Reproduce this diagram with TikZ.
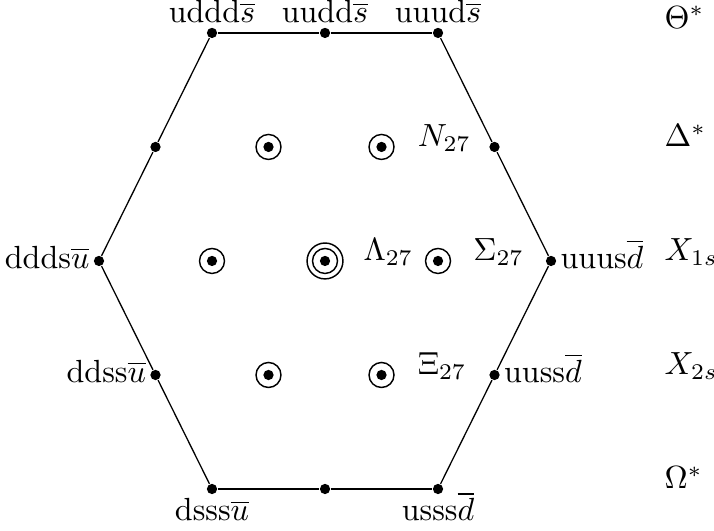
\documentclass[tikz,border=0pt]{standalone}
\usetikzlibrary{positioning}
\tikzset{
  wdot/.style={circle, fill=black, inner sep=0pt, minimum size=3.2pt},
  wring/.style={circle, draw, line width=0.45pt, inner sep=0pt, minimum size=7.8pt,
    path picture={\fill (path picture bounding box.center) circle (1.6pt);}},
  wouter/.style={circle, draw, line width=0.45pt, inner sep=0pt, minimum size=11.2pt},
  wedge/.style={line width=0.4pt},
  wbase/.style={line width=0.75pt},
  wlbl/.style={inner sep=1pt},
  wside/.style={inner sep=1pt, yshift=-2.2pt},
  wname/.style={inner sep=1pt, anchor=base west},
  wrow/.style={anchor=base west, inner sep=0pt},
}

\begin{document}
\begin{tikzpicture}[x=1.239cm, y=1.25cm]
    \useasboundingbox (-2.876,-2.368) rectangle (3.442,2.289);

    % corners and edge weights
    \node[wdot] (t1) at (-1,2) {};
    \node[wdot] (t2) at (0,2) {};
    \node[wdot] (t3) at (1,2) {};
    \node[wdot] (l1) at (-1.5,1) {};
    \node[wdot] (r1) at (1.5,1) {};
    \node[wdot] (l0) at (-2,0) {};
    \node[wdot] (r0) at (2,0) {};
    \node[wdot] (l2) at (-1.5,-1) {};
    \node[wdot] (r2) at (1.5,-1) {};
    \node[wdot] (b1) at (-1,-2) {};
    \node[wdot] (b2) at (0,-2) {};
    \node[wdot] (b3) at (1,-2) {};

    \draw[wbase] (t1) -- (t2) -- (t3);
    \draw[wbase] (b1) -- (b2) -- (b3);
    \draw[wedge] (t1) -- (l1) -- (l0) -- (l2) -- (b1);
    \draw[wedge] (t3) -- (r1) -- (r0) -- (r2) -- (b3);

    % inner weights
    \node[wring] (n1) at (-0.5,1) {};
    \node[wring] (n2) at (0.5,1) {};
    \node[wring] (m1) at (-1,0) {};
    \node[wring] (m3) at (1,0) {};
    \node[wring] (x1) at (-0.5,-1) {};
    \node[wring] (x2) at (0.5,-1) {};
    \node[wring] (m2) at (0,0) {};
    \node[wouter] (m2o) at (m2) {};

    % quark contents
    \node[wlbl, above=0pt of t1] (t1l) {uddd$\overline{s}$};
    \node[wlbl, above=0pt of t2] (t2l) {uudd$\overline{s}$};
    \node[wlbl, above=0pt of t3] (t3l) {uuud$\overline{s}$};
    \node[wside, anchor=base east] (l0l) at (l0.west) {ddds$\overline{u}$};
    \node[wside, anchor=base east] (l2l) at (l2.west) {ddss$\overline{u}$};
    \node[wside, anchor=base west] (r0l) at (r0.east) {uuus$\overline{d}$};
    \node[wside, anchor=base west] (r2l) at (r2.east) {uuss$\overline{d}$};
    \node[wlbl, below=0pt of b1] (b1l) {dsss$\overline{u}$};
    \node[wlbl, anchor=base] (b3l) at (b3 |- b1l.base) {usss$\overline{d}$};

    \node[wname, xshift=6pt] (nl) at (n2.east) {$N_{27}$};
    \node[wname, xshift=5pt] (ll) at (m2o.east) {$\Lambda_{27}$};
    \node[wname, xshift=5.7pt] (sl) at (m3.east) {$\Sigma_{27}$};
    \node[wname, xshift=6pt] (xl) at (x2.east) {$\Xi_{27}$};

    % multiplets
    \node[wrow] (th) at (3.0,2.04) {$\Theta^*$};
    \node[wrow] (de) at (3.0,1) {$\Delta^*$};
    \node[wrow] (xa) at (3.0,0) {$X_{1s}$};
    \node[wrow] (xb) at (3.0,-1) {$X_{2s}$};
    \node[wrow] (om) at (3.0,-2) {$\Omega^*$};
\end{tikzpicture}
\end{document}
